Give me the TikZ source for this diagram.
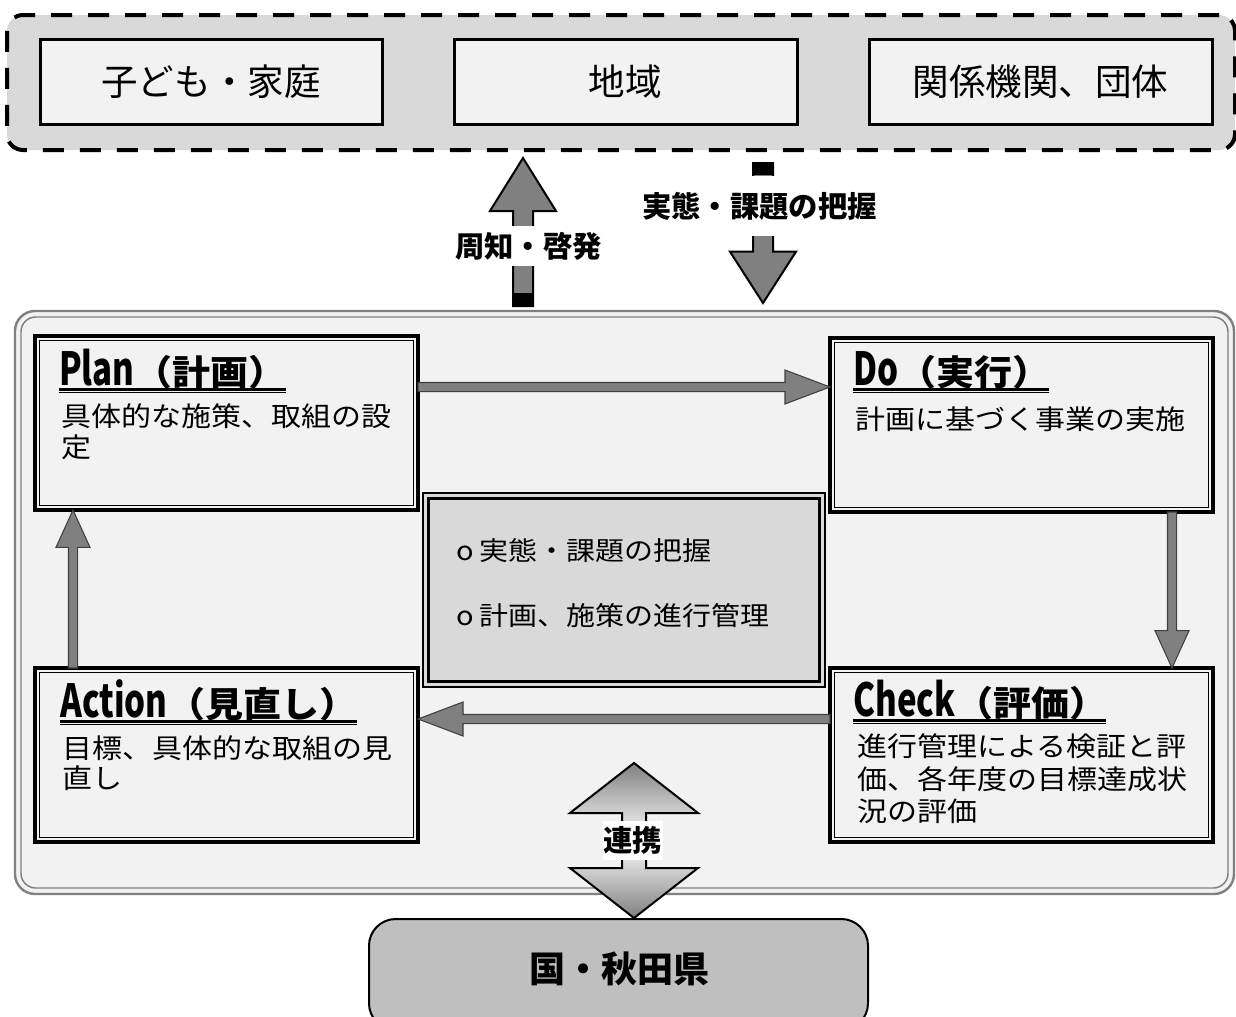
\documentclass[tikz,border=0pt]{standalone}
\usepackage{fontspec}
\setmainfont{Noto Sans CJK JP}
\usetikzlibrary{calc}
\definecolor{g85}{HTML}{D9D9D9}
\definecolor{g95}{HTML}{F2F2F2}
\definecolor{g75}{HTML}{BFBFBF}
\definecolor{g50}{HTML}{808080}
\newcommand\sq[1]{\scalebox{1}[0.9]{#1}}
\newcommand\hd[2]{\scalebox{0.87}[1.2]{#1}\scalebox{1}[0.92]{#2}}
\newcommand\blockarrow[6]{%
  \path ($(#3)!#6!(#2)$) coordinate (hb);
  \draw[#1] ($(#2)!#4!90:(#3)$) -- ($(hb)!#4!90:(#3)$) -- ($(hb)!#5!90:(#3)$) -- (#3)
    -- ($(hb)!#5!-90:(#3)$) -- ($(hb)!#4!-90:(#3)$) -- ($(#2)!#4!-90:(#3)$) -- cycle;}
\begin{document}
\begin{tikzpicture}[x=0.75pt,y=-0.75pt,
  rect/.style n args={4}{minimum width={(#3-#1)*0.75pt}, minimum height={(#4-#2)*0.75pt},
     at={({(#1+#3)/2},{(#2+#4)/2})}, inner sep=0pt, outer sep=0pt},
  commbox/.style={draw, line width=3pt, dash pattern=on 15.75pt off 12pt, fill=g85, rounded corners=12pt},
  orgbox/.style={draw, line width=2.25pt, fill=g95, font=\fontsize{27.4pt}{30pt}\selectfont},
  platbox/.style={draw=g50, line width=1.8pt, fill=g95, rounded corners=15pt},
  pdcabox/.style={draw, line width=2.6pt, fill=g95},
  midbox/.style={draw, line width=1.2pt, fill=g85},
  headtxt/.style={anchor=base west, inner sep=0pt, font=\bfseries\fontsize{28.5pt}{30pt}\selectfont},
  bodytxt/.style={anchor=base west, inner sep=0pt, font=\fontsize{22.5pt}{24pt}\selectfont},
  midtxt/.style={anchor=base west, inner sep=0pt, font=\fontsize{21.75pt}{24pt}\selectfont},
  flowarrow/.style={fill=g50, draw=black!75, line width=0.8pt},
  bigarrow/.style={fill=g50, draw=black, line width=1.5pt},
  arrlabel/.style={fill=white, inner xsep=1pt, font=\bfseries\fontsize{22pt}{24pt}\selectfont}
]
\useasboundingbox (0,0) rectangle (1236,1017);

% top container
\node[commbox, rect={7}{15}{1235}{150}] (comm) {};
\node[orgbox, rect={40}{39}{382}{124}] (k1) {子ども・家庭};
\node[orgbox, rect={454}{39}{797}{124}] (k2) {地域};
\node[orgbox, rect={869}{39}{1212}{124}] (k3) {関係機関、団体};

% main container
\node[platbox, rect={15}{311}{1234}{894}] (plat) {};
\draw[g50, line width=1.1pt, rounded corners=11pt]
  ([shift={(4.5pt,-4.5pt)}]plat.north west) rectangle ([shift={(-4.5pt,4.5pt)}]plat.south east);

% PDCA boxes
\node[pdcabox, rect={35}{336}{418}{510}] (plan) {};
\node[pdcabox, rect={830}{338}{1213}{512}] (do) {};
\node[pdcabox, rect={830}{668}{1213}{842}] (check) {};
\node[pdcabox, rect={35}{668}{418}{842}] (action) {};
\node[midbox, rect={423}{493}{825}{687}] (mid) {};
\foreach \n in {plan,do,check,action}
  \draw[line width=1.1pt] ([shift={(3.4pt,-3.4pt)}]\n.north west) rectangle ([shift={(-3.4pt,3.4pt)}]\n.south east);
\draw[line width=2.6pt] ([shift={(4.2pt,-4.2pt)}]mid.north west) rectangle ([shift={(-4.2pt,4.2pt)}]mid.south east);

% headings
\node[headtxt] (planh) at (59,385) {\hd{Plan}{（計画）}};
\node[headtxt] (doh) at (853,385) {\hd{Do}{（実行）}};
\node[headtxt] (checkh) at (853,716) {\hd{Check}{（評価）}};
\node[headtxt] (actionh) at (60,717) {\hd{Action}{（見直し）}};
\foreach \h in {planh,doh,checkh,actionh}{
  \draw[line width=1.7pt] ([yshift=-3.4pt]\h.base west) -- ([yshift=-3.4pt,xshift=-1pt]\h.base east);
  \draw[line width=0.8pt] ([yshift=-5.7pt]\h.base west) -- ([yshift=-5.7pt,xshift=-1pt]\h.base east);
}

% bodies
\node[bodytxt] (planb1) at (61,426) {\sq{具体的な施策、取組の設}};
\node[bodytxt] (planb2) at (61,457) {\sq{定}};
\node[bodytxt] (dob1) at (855,429) {\sq{計画に基づく事業の実施}};
\node[bodytxt] (checkb1) at (857,756) {\sq{進行管理による検証と評}};
\node[bodytxt] (checkb2) at (857,789) {\sq{価、各年度の目標達成状}};
\node[bodytxt] (checkb3) at (857,821) {\sq{況の評価}};
\node[bodytxt] (actionb1) at (62,758) {\sq{目標、具体的な取組の見}};
\node[bodytxt] (actionb2) at (62,788) {\sq{直し}};
\node[midtxt] (m1) at (456,560) {\sq{o\hspace{4pt}実態・課題の把握}};
\node[midtxt] (m2) at (456,625) {\sq{o\hspace{4pt}計画、施策の進行管理}};

% cycle arrows
\coordinate (pdS) at (plan.east |- 0,387);
\coordinate (pdE) at (do.west |- 0,387);
\coordinate (dcS) at (do.south -| 1172,0);
\coordinate (dcE) at (check.north -| 1172,0);
\coordinate (caS) at (check.west |- 0,719);
\coordinate (caE) at (action.east |- 0,719);
\coordinate (apS) at (action.north -| 73,0);
\coordinate (apE) at (plan.south -| 73,0);
\blockarrow{flowarrow}{pdS}{pdE}{3.4pt}{12.75pt}{33.75pt}
\blockarrow{flowarrow}{dcS}{dcE}{3.4pt}{12.75pt}{28pt}
\blockarrow{flowarrow}{caS}{caE}{3.4pt}{12.75pt}{33.75pt}
\blockarrow{flowarrow}{apS}{apE}{3.4pt}{12.75pt}{28pt}

% big arrows between containers
\coordinate (upS) at (523,306);
\coordinate (upE) at (523,158);
\coordinate (dnS) at (763,163);
\coordinate (dnE) at (763,303);
\blockarrow{bigarrow}{upS}{upE}{7.5pt}{24.75pt}{39.75pt}
\blockarrow{bigarrow}{dnS}{dnE}{7.5pt}{24.75pt}{38.5pt}
\fill[black] (513,293) rectangle (533,306);
\fill[black] (753,163) rectangle (773,175);
\node[arrlabel, inner ysep=4.5pt] (lbUp) at (528.5,246) {周知・啓発};
\node[arrlabel, inner ysep=12pt] (lbDn) at (759.5,206) {実態・課題の把握};

% bottom box
\node[draw, line width=1.5pt, fill=g75, rounded corners=20pt, rect={369}{919}{868}{1030}] (koku) {};
\node[font=\bfseries\fontsize{27pt}{30pt}\selectfont, inner sep=0pt] (kokut) at (619,969) {国・秋田県};

% double arrow (link)
\coordinate (lkT) at (634,763);
\coordinate (lkB) at (634,918);
\shadedraw[top color=g50, bottom color=g50, middle color=white, draw=black, line width=1.5pt]
  (lkT) -- ($(lkT)+(64,50)$) -- ($(lkT)+(12,50)$) -- ($(lkB)+(12,-50)$) -- ($(lkB)+(64,-50)$)
  -- (lkB) -- ($(lkB)+(-64,-50)$) -- ($(lkB)+(-12,-50)$) -- ($(lkT)+(-12,50)$) -- ($(lkT)+(-64,50)$) -- cycle;
\node[arrlabel, inner ysep=4pt, inner xsep=0.5pt] (lbLk) at (632.5,840.5) {連携};
\end{tikzpicture}
\end{document}
